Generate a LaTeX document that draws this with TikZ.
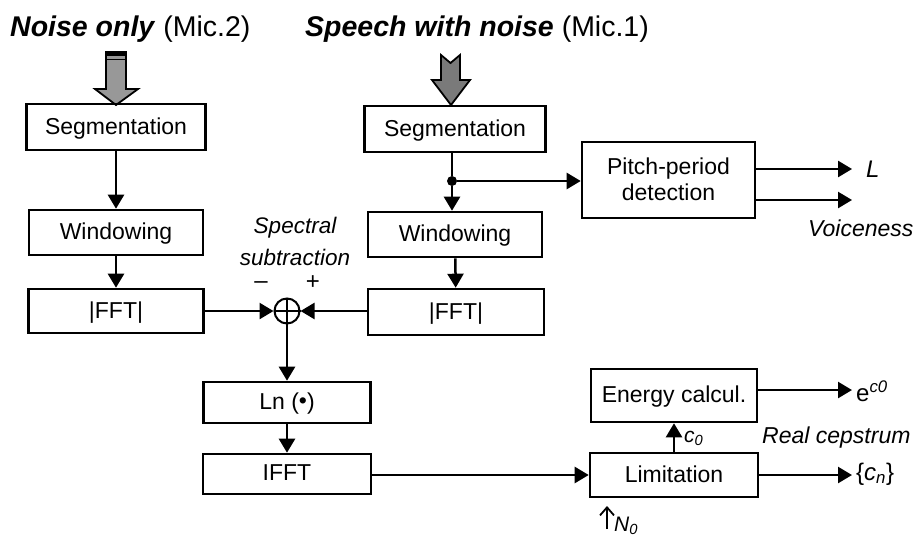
\documentclass[tikz,border=0pt]{standalone}
\usepackage{fontspec}
\setmainfont{Liberation Sans}
\usetikzlibrary{arrows.meta}

\definecolor{mictwo}{RGB}{152,152,152}
\definecolor{micone}{RGB}{122,122,122}

\begin{document}
\begin{tikzpicture}[x=1pt, y=-1pt, every node/.style={font=\fontsize{23}{26}\selectfont}]
    \tikzset{box/.style={rectangle, draw, line width=2.6pt, minimum width=174pt, minimum height=45pt, align=center, text depth=2pt}}
    \tikzset{line/.style={draw, line width=2.5pt, -{Triangle[length=14pt, width=16pt]}}}
    \tikzset{bigarrow/.style={draw, line width=1.8pt, line join=miter}}
    \tikzset{outlabel/.style={anchor=west, inner sep=0pt, font=\fontsize{23}{26}\selectfont\itshape}}
    \useasboundingbox (0,0) rectangle (920,538);

    % Titles
    \node [anchor=west, inner sep=0pt, font=\fontsize{28.5}{32}\selectfont] (t_noise) at (10,29) {\textbf{\textit{Noise only}} (Mic.2)};
    \node [anchor=west, inner sep=0pt, font=\fontsize{28.5}{32}\selectfont] (t_speech) at (305,29) {\textbf{\textit{Speech with noise}} (Mic.1)};

    % Input arrows
    \draw [bigarrow, fill=mictwo] (106,52) -- (126,52) -- (126,89) -- (138,89) -- (116,105) -- (95,89) -- (106,89) -- cycle;
    \fill (106,51) rectangle (126,56);
    \draw [line width=1.2pt] (106,59.5) -- (126,59.5);
    \draw [bigarrow, fill=micone] (441,55) -- (450.5,63) -- (460,55) -- (460,80) -- (470,80) -- (451,105) -- (432,80) -- (441,80) -- cycle;

    % Noise channel (Mic.2)
    \node [box, minimum width=179pt, minimum height=46pt] (n_seg) at (116,127) {Segmentation};
    \node [box] (n_win) at (116,232.5) {Windowing};
    \node [box, minimum width=175pt, minimum height=44pt] (n_fft) at (116,311) {|FFT|};

    % Speech channel (Mic.1)
    \node [box, minimum width=181pt, minimum height=46pt] (s_seg) at (455,129) {Segmentation};
    \node [circle, fill, inner sep=0pt, minimum size=10pt] (s_br) at (452,181) {};
    \node [box] (s_win) at (455,234.5) {Windowing};
    \node [box, minimum width=176pt, minimum height=46pt] (s_fft) at (456,312) {|FFT|};
    \node [box, minimum width=173pt, minimum height=76pt] (pitch) at (668.5,180) {Pitch-period\\detection};

    % Spectral subtraction
    \node [circle, draw, line width=2pt, inner sep=0pt, minimum size=25pt] (sum) at (287,311) {};
    \draw [line width=1.6pt] (sum.north) -- (sum.south) (sum.west) -- (sum.east);
    \node [align=center, font=\fontsize{22.5}{32}\selectfont\itshape] (sub_lbl) at (295,241) {Spectral\\subtraction};
    \node [font=\fontsize{24}{26}\selectfont] (minus) at (261,285) {--};
    \node [font=\fontsize{24}{26}\selectfont] (plus) at (313,283) {+};

    % Cepstrum
    \node [box, minimum width=167pt, minimum height=41pt] (ln) at (287,402.5) {Ln (\raisebox{0.1ex}{\textbullet})};
    \node [box, minimum width=168pt, minimum height=40pt] (ifft) at (287,474) {IFFT};
    \node [box, minimum width=168pt, minimum height=44pt] (lim) at (674,475) {Limitation};
    \node [box, minimum width=166pt, minimum height=53pt] (en) at (674,395.5) {Energy calcul.};

    % Outputs
    \coordinate (l_end) at (852,169);
    \coordinate (v_end) at (852,200);
    \coordinate (e_end) at (852,390);
    \coordinate (c_end) at (852,475);
    \node [outlabel, font=\fontsize{24}{26}\selectfont\itshape] (l_lbl) at (866,169) {L};
    \node [outlabel] (v_lbl) at (808,228) {Voiceness};
    \node [anchor=west, inner sep=0pt, font=\fontsize{24}{26}\selectfont] (e_lbl) at (856,391) {e\textsuperscript{\itshape c0}};
    \node [outlabel] (r_lbl) at (762,438) {Real cepstrum};
    \node [anchor=west, inner sep=0pt, font=\fontsize{24}{26}\selectfont] (c_lbl) at (856,474) {\{\textit{c}\textsubscript{\itshape n}\}};
    \node [anchor=west, inner sep=0pt, font=\fontsize{21}{24}\selectfont\itshape] (c0_lbl) at (684,438) {c\textsubscript{0}};
    \coordinate (n0_start) at (607,529);
    \coordinate (n0_end) at (607,506);
    \node [anchor=west, inner sep=0pt, font=\fontsize{21}{24}\selectfont\itshape] (n0_lbl) at (614,526) {N\textsubscript{0}};

    \path [line] (n_seg) -- (n_win);
    \path [line] (n_win) -- (n_fft);
    \path [line] (n_fft) -- (sum);

    \draw [line width=2.5pt] (s_seg.south -| s_br) -- (s_br);
    \path [line] (s_br) -- (s_br |- s_win.north);
    \path [line] (s_win) -- (s_fft);
    \path [line] (s_fft.west |- sum) -- (sum);
    \path [line] (s_br) -- (s_br -| pitch.west);
    \path [line] (pitch.east |- l_end) -- (l_end);
    \path [line] (pitch.east |- v_end) -- (v_end);

    \path [line] (sum) -- (ln);
    \path [line] (ln) -- (ifft);
    \path [line] (ifft.east |- lim) -- (lim);
    \path [line] (lim) -- (en);
    \path [line] (en.east |- e_end) -- (e_end);
    \path [line] (lim) -- (c_end);
    \draw [line width=1.8pt, -{Straight Barb[length=8pt, width=14pt]}] (n0_start) -- (n0_end);
\end{tikzpicture}
\end{document}
